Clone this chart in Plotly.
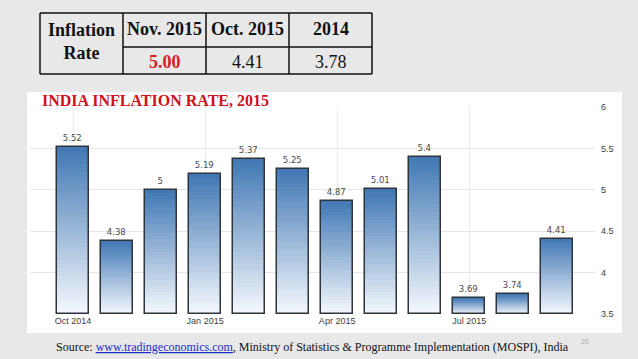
import plotly.graph_objects as go

# ---------------- data ----------------
months = ["Oct 2014", "Nov 2014", "Dec 2014", "Jan 2015", "Feb 2015", "Mar 2015",
          "Apr 2015", "May 2015", "Jun 2015", "Jul 2015", "Aug 2015", "Sep 2015"]
inflation = [5.52, 4.38, 5.00, 5.19, 5.37, 5.25, 4.87, 5.01, 5.40, 3.69, 3.74, 4.41]
x_tick_labels = ["Oct 2014", "Jan 2015", "Apr 2015", "Jul 2015"]
y_ticks = [3.5, 4, 4.5, 5, 5.5, 6]

table_header = ["Nov. 2015", "Oct. 2015", "2014"]
table_values = ["5.00", "4.41", "3.78"]
table_row_label = "Inflation<br>Rate"

title_text = "INDIA INFLATION RATE, 2015"
source_text = ("Source: <a href='http://www.tradingeconomics.com'><u>www.tradingeconomics.com</u></a>, "
               "Ministry of Statistics &amp; Programme Implementation (MOSPI), India")
slide_no = "20"

# ---------------- layout geometry ----------------
W, H = 638, 359
ML, MR, MT, MB = 30, 43, 107, 45
PW, PH = W - ML - MR, H - MT - MB
BASE = 3.5


def px(x):
    return (x - ML) / PW


def py(y):
    return (H - MB - y) / PH


def lerp(c1, c2, t):
    return "rgb(%d,%d,%d)" % tuple(round(a + (b - a) * t) for a, b in zip(c1, c2))


fig = go.Figure()

# gradient bars: stacked thin segments
N = 40
bottom_c = (243, 247, 252)
top_c = (66, 121, 180)
for i in range(N):
    t = i / (N - 1)
    bases = [BASE + (v - BASE) * i / N for v in inflation]
    heights = [(v - BASE) / N * (1.0 if i == N - 1 else 1.6) for v in inflation]
    fig.add_trace(go.Bar(
        x=months, y=heights, base=bases, width=0.73,
        marker=dict(color=lerp(bottom_c, top_c, t), line=dict(width=0)),
        hoverinfo="skip", showlegend=False))

# outline + labels
fig.add_trace(go.Bar(
    x=months, y=[v - BASE for v in inflation], base=[BASE] * len(inflation), width=0.73,
    marker=dict(color="rgba(0,0,0,0)", line=dict(color="#2d343b", width=1.5)),
    text=[f"{v:g}" for v in inflation], textposition="outside",
    textfont=dict(family="DejaVu Sans", size=8.5, color="#4a4a4a"),
    cliponaxis=False, hoverinfo="skip", showlegend=False))

shapes = []
# white chart panel
shapes.append(dict(type="rect", xref="paper", yref="paper", layer="below",
                   x0=px(27), x1=px(622), y0=py(333), y1=py(92),
                   fillcolor="white", line=dict(width=0)))

# table lines
tt, tb, mid = 13, 74, 47
cols = [40, 123, 206, 289, 372]
lc = dict(color="#111111", width=1.5)
for cx in cols:
    shapes.append(dict(type="line", xref="paper", yref="paper",
                       x0=px(cx), x1=px(cx), y0=py(tt), y1=py(tb), line=lc))
shapes.append(dict(type="line", xref="paper", yref="paper",
                   x0=px(cols[0]), x1=px(cols[-1]), y0=py(tt), y1=py(tt), line=lc))
shapes.append(dict(type="line", xref="paper", yref="paper",
                   x0=px(cols[0]), x1=px(cols[-1]), y0=py(tb), y1=py(tb), line=lc))
shapes.append(dict(type="line", xref="paper", yref="paper",
                   x0=px(cols[1]), x1=px(cols[-1]), y0=py(mid), y1=py(mid), line=lc))


def ann(text, x, y, size, color, family="Liberation Serif", xanchor="center"):
    return dict(text=text, xref="paper", yref="paper", x=px(x), y=py(y),
                xanchor=xanchor, yanchor="middle", showarrow=False, align="center",
                font=dict(family=family, size=size, color=color))


annotations = []
annotations.append(ann("<b>" + table_row_label + "</b>", (cols[0] + cols[1]) / 2, 42, 18, "#111"))
for j in range(3):
    cx = (cols[j + 1] + cols[j + 2]) / 2
    annotations.append(ann("<b>" + table_header[j] + "</b>", cx, 29, 18, "#111"))
    if j == 0:
        annotations.append(ann("<b>" + table_values[j] + "</b>", cx, 62, 18, "#d61f26"))
    else:
        annotations.append(ann(table_values[j], cx, 62, 18, "#111"))

# chart title
annotations.append(ann("<b>" + title_text + "</b>", 40, 100, 16, "#d0101a", xanchor="left"))
# source
annotations.append(ann(source_text.replace("<u>", "<span style='color:#1a2ccc'><u>").replace("</u>", "</u></span>"),
                       312, 347, 12, "#111"))
annotations.append(ann(slide_no, 585, 341, 7, "#a8a8a8", family="Liberation Sans"))

fig.update_layout(
    width=W, height=H, margin=dict(l=ML, r=MR, t=MT, b=MB, pad=0),
    paper_bgcolor="#e8e8e8", plot_bgcolor="white",
    barmode="overlay", bargap=0, showlegend=False,
    shapes=shapes, annotations=annotations,
    xaxis=dict(type="category", categoryorder="array", categoryarray=months,
               range=[-0.98, 11.86], tickvals=x_tick_labels, ticktext=x_tick_labels,
               showgrid=True, gridcolor="#ececec", gridwidth=1,
               showline=False, zeroline=False, ticks="",
               tickfont=dict(family="Liberation Sans", size=9, color="#404040")),
    yaxis=dict(side="right", range=[3.499, 6.002], tickvals=y_ticks,
               ticktext=[f"{v:g}" for v in y_ticks],
               showgrid=True, gridcolor="#e6e6e6", gridwidth=1,
               showline=False, zeroline=False, ticks="", ticklabelstandoff=5,
               tickfont=dict(family="Liberation Sans", size=9, color="#404040")),
)

fig.write_html("out.html", config={"displayModeBar": False},
               post_script="document.body.style.margin='0';document.body.style.overflow='hidden';")
